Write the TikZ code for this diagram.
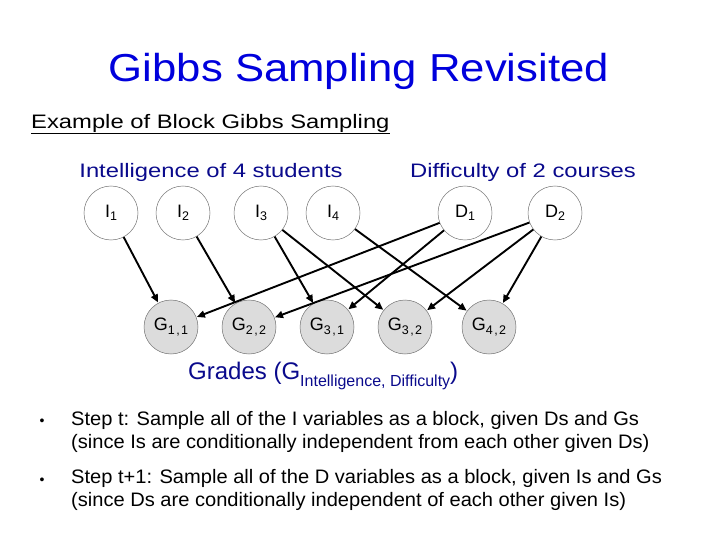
\documentclass[tikz,border=0pt]{standalone}
\usepackage{fontspec}
\setmainfont{Liberation Sans}
\newfontfamily\titlefont[FakeStretch=1.12]{Liberation Sans}
\newfontfamily\widefont[FakeStretch=1.22]{Liberation Sans}
\newfontfamily\bulletfont[FakeStretch=1.03]{Liberation Sans}
\newfontfamily\subfont[LetterSpace=12]{Liberation Sans}
\usetikzlibrary{arrows.meta}
\definecolor{titleblue}{RGB}{0,0,220}
\definecolor{navy}{RGB}{10,10,140}
\definecolor{gfill}{RGB}{220,220,220}
\newcommand{\nsub}[1]{\raisebox{-0.35ex}{\subfont\fontsize{12.5}{13}\selectfont #1}}
\begin{document}
\begin{tikzpicture}[x=1pt,y=-1pt,
  var/.style={circle,draw=black!55,line width=0.5pt,minimum size=54pt,inner sep=0pt,font=\fontsize{18}{19}\selectfont},
  obs/.style={var,fill=gfill},
  edge/.style={line width=1.9pt,-{Triangle[length=8pt,width=7pt]},shorten >=0.5pt}
]
\useasboundingbox (0,0) rectangle (720,540);
\node[titleblue,font=\titlefont\fontsize{39}{44}\selectfont] (title) at (359,71) {Gibbs Sampling Revisited};
\node[anchor=west,font=\widefont\fontsize{19.5}{22}\selectfont,inner sep=0pt] (ex) at (31,124) {\underline{Example of Block Gibbs Sampling}};
\node[navy,font=\widefont\fontsize{19.5}{22}\selectfont] (il) at (211,172) {Intelligence of 4 students};
\node[navy,font=\widefont\fontsize{19.5}{22}\selectfont] (dl) at (523,172) {Difficulty of 2 courses};

\node[var] (I1) at (111,213) {I\nsub{1}};
\node[var] (I2) at (183,213) {I\nsub{2}};
\node[var] (I3) at (261,213) {I\nsub{3}};
\node[var] (I4) at (333,213) {I\nsub{4}};
\node[var] (D1) at (465,213) {D\nsub{1}};
\node[var] (D2) at (555,213) {D\nsub{2}};

\node[obs] (G11) at (171,327) {G\nsub{1,1}};
\node[obs] (G22) at (249,327) {G\nsub{2,2}};
\node[obs] (G31) at (327,327) {G\nsub{3,1}};
\node[obs] (G32) at (405,327) {G\nsub{3,2}};
\node[obs] (G42) at (489,327) {G\nsub{4,2}};

\draw[edge] (I1) -- (G11);
\draw[edge] (I2) -- (G22);
\draw[edge] (I3) -- (G31);
\draw[edge] (I3) -- (G32);
\draw[edge] (I4) -- (G42);
\draw[edge] (D1) -- (G11);
\draw[edge] (D1) -- (G31);
\draw[edge] (D2) -- (G22);
\draw[edge] (D2) -- (G32);
\draw[edge] (D2) -- (G42);

\node[navy,anchor=west,font=\fontsize{24}{26}\selectfont,inner sep=0pt] (gr) at (188,376) {Grades (G\raisebox{-0.5ex}{\fontsize{16}{17}\selectfont Intelligence, Difficulty})};

\node[font=\fontsize{14}{16}\selectfont,inner sep=0pt] (b1) at (42,422) {\textbullet};
\node[anchor=north west,align=left,font=\bulletfont\fontsize{19.5}{23.5}\selectfont,inner sep=0pt] (t1) at (71,411) {Step t: Sample all of the I variables as a block, given Ds and Gs\\(since Is are conditionally independent from each other given Ds)};
\node[font=\fontsize{14}{16}\selectfont,inner sep=0pt] (b2) at (42,481) {\textbullet};
\node[anchor=north west,align=left,font=\bulletfont\fontsize{19.5}{23.5}\selectfont,inner sep=0pt] (t2) at (71,469) {Step t+1: Sample all of the D variables as a block, given Is and Gs\\(since Ds are conditionally independent of each other given Is)};
\end{tikzpicture}
\end{document}
